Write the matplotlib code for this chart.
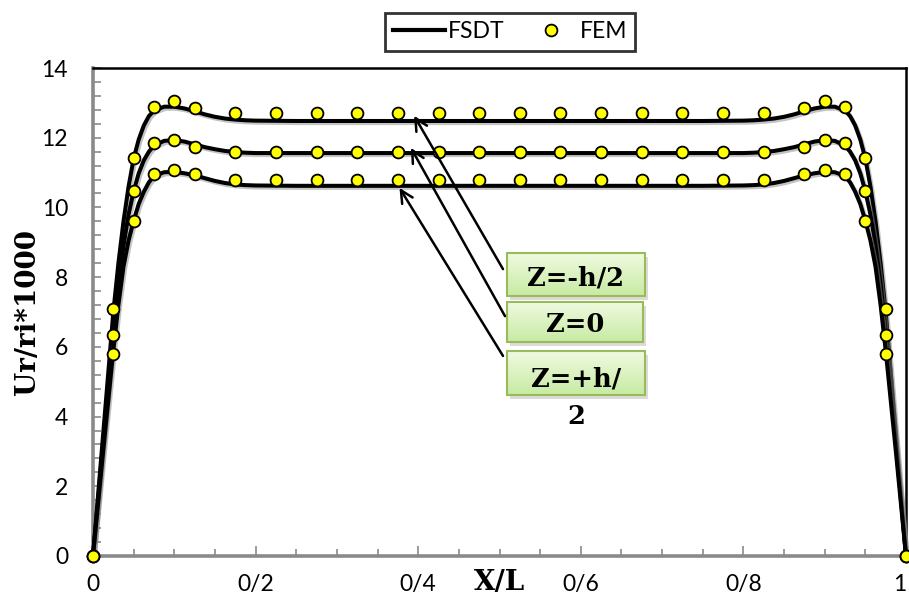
import matplotlib
matplotlib.use("Agg")
import matplotlib.pyplot as plt
import matplotlib.patheffects as pe
from matplotlib.ticker import MultipleLocator, FixedLocator, FixedFormatter
from matplotlib.lines import Line2D
import numpy as np

# ---- FSDT curves (radial displacement along the shell) ----
x_fsdt = [0, 0.0125, 0.025, 0.03125, 0.0375, 0.04375, 0.05, 0.05625, 0.0625, 0.06875,
          0.075, 0.0875, 0.1, 0.1125, 0.125, 0.1375, 0.15, 0.1625, 0.175, 0.1875, 0.2,
          0.25, 0.5, 0.75,
          0.8, 0.8125, 0.825, 0.8375, 0.85, 0.8625, 0.875, 0.8875, 0.9, 0.9125, 0.925,
          0.93125, 0.9375, 0.94375, 0.95, 0.95625, 0.9625, 0.96875, 0.975, 0.9875, 1.0]

fsdt_top = [0, 3.5, 7.0, 8.4, 9.6, 10.6, 11.4, 11.95, 12.35, 12.62,
            12.78, 12.89, 12.89, 12.84, 12.76, 12.67, 12.6, 12.55, 12.52, 12.5, 12.49,
            12.48, 12.48, 12.48,
            12.49, 12.5, 12.52, 12.55, 12.6, 12.67, 12.76, 12.84, 12.89, 12.89, 12.78,
            12.62, 12.35, 11.95, 11.4, 10.6, 9.6, 8.4, 7.0, 3.5, 0]

fsdt_mid = [0, 3.25, 6.4, 7.8, 8.9, 9.8, 10.47, 10.98, 11.35, 11.6,
            11.77, 11.91, 11.93, 11.89, 11.81, 11.73, 11.67, 11.62, 11.59, 11.57, 11.56,
            11.56, 11.56, 11.56,
            11.56, 11.57, 11.59, 11.62, 11.67, 11.73, 11.81, 11.89, 11.93, 11.91, 11.77,
            11.6, 11.35, 10.98, 10.47, 9.8, 8.9, 7.8, 6.4, 3.25, 0]

fsdt_bot = [0, 3.0, 5.9, 7.2, 8.3, 9.05, 9.62, 10.1, 10.45, 10.72,
            10.9, 11.01, 11.02, 10.98, 10.92, 10.84, 10.76, 10.7, 10.66, 10.64, 10.63,
            10.62, 10.62, 10.62,
            10.63, 10.64, 10.66, 10.7, 10.76, 10.84, 10.92, 10.98, 11.02, 11.01, 10.9,
            10.72, 10.45, 10.1, 9.62, 9.05, 8.3, 7.2, 5.9, 3.0, 0]

# ---- FEM results ----
x_fem = [0, 0.025, 0.05, 0.075, 0.1, 0.125, 0.175, 0.225, 0.275, 0.325, 0.375,
         0.425, 0.475, 0.525, 0.575, 0.625, 0.675, 0.725, 0.775, 0.825,
         0.875, 0.9, 0.925, 0.95, 0.975, 1.0]
fem_top = [0, 7.1, 11.43, 12.88, 13.05, 12.86, 12.7, 12.7, 12.7, 12.7, 12.7,
           12.7, 12.7, 12.7, 12.7, 12.7, 12.7, 12.7, 12.7, 12.7,
           12.86, 13.05, 12.88, 11.43, 7.1, 0]
fem_mid = [0, 6.33, 10.47, 11.84, 11.93, 11.74, 11.6, 11.6, 11.6, 11.6, 11.6,
           11.6, 11.6, 11.6, 11.6, 11.6, 11.6, 11.6, 11.6, 11.6,
           11.74, 11.93, 11.84, 10.47, 6.33, 0]
fem_bot = [0, 5.79, 9.62, 10.95, 11.08, 10.95, 10.8, 10.8, 10.8, 10.8, 10.8,
           10.8, 10.8, 10.8, 10.8, 10.8, 10.8, 10.8, 10.8, 10.8,
           10.95, 11.08, 10.95, 9.62, 5.79, 0]

x_ticks = [0, 0.2, 0.4, 0.6, 0.8, 1.0]
x_ticklabels = ["0", "0/2", "0/4", "0/6", "0/8", "1"]
y_ticks = [0, 2, 4, 6, 8, 10, 12, 14]

labels = ["Z=-h/2", "Z=0", "Z=+h/"]
arrow_tips = [(0.395, 12.63), (0.391, 11.71), (0.377, 10.56)]

TICK_FONT = ["Lato", "DejaVu Sans"]
SERIF_BOLD = dict(family="DejaVu Serif", weight="bold")

fig = plt.figure(figsize=(9.09, 6.03), dpi=100)
ax = fig.add_axes([93 / 909, 1 - 556 / 603, 813 / 909, 488 / 603])

shadow = [pe.SimpleLineShadow(offset=(1.2, -1.5), shadow_color="#888888", alpha=0.5),
          pe.Normal()]
for ys in (fsdt_top, fsdt_mid, fsdt_bot):
    ax.plot(x_fsdt, ys, color="black", lw=2.9, solid_joinstyle="round",
            path_effects=shadow, zorder=3, clip_on=False)

for ys in (fem_top, fem_mid, fem_bot):
    ax.plot(x_fem, ys, ls="none", marker="o", ms=8.5, mfc="#ffff00", mec="black",
            mew=1.3, zorder=4, clip_on=False)

ax.set_xlim(0, 1)
ax.set_ylim(0, 14)

ax.xaxis.set_major_locator(FixedLocator(x_ticks))
ax.xaxis.set_major_formatter(FixedFormatter(x_ticklabels))
ax.xaxis.set_minor_locator(MultipleLocator(0.05))
ax.yaxis.set_major_locator(FixedLocator(y_ticks))
ax.yaxis.set_minor_locator(MultipleLocator(0.4))

ax.tick_params(axis="both", which="both", direction="in", color="#8a8a8a", width=1.2)
ax.tick_params(axis="x", which="major", length=7, pad=13)
ax.tick_params(axis="x", which="minor", length=5)
ax.tick_params(axis="y", which="both", length=6, pad=18)
for lab in ax.get_xticklabels() + ax.get_yticklabels():
    lab.set_family(TICK_FONT)
    lab.set_fontsize(16.5)
ax.get_xticklabels()[-1].set_ha("right")
ax.get_xticklabels()[-1].set_x(1.0)

for side in ("top", "right"):
    ax.spines[side].set_color("black")
    ax.spines[side].set_linewidth(1.8)
for side in ("left", "bottom"):
    ax.spines[side].set_color("#8a8a8a")
    ax.spines[side].set_linewidth(2.6)
    ax.spines[side].set_zorder(2.5)

ax.set_xlabel("X/L", fontsize=20, **SERIF_BOLD)
ax.xaxis.set_label_coords(0.5, -0.055)
ax.xaxis.label.set_va("center")
ax.set_ylabel("Ur/ri*1000", fontsize=20, **SERIF_BOLD)
ax.yaxis.set_label_coords(-0.081, 0.5)
ax.yaxis.label.set_va("center")

# ---- label boxes with arrows ----
boxes = [(0.509, 0.679, 7.46, 8.69), (0.509, 0.6765, 6.14, 7.29), (0.509, 0.679, 4.62, 5.88)]
tails = [(0.5043, 8.23), (0.5068, 6.88), (0.5043, 5.74)]
text_y = [7.98, 6.64, 5.09]
grad = np.linspace(0, 1, 64).reshape(-1, 1)
top_c = np.array([0.94, 0.98, 0.88])
bot_c = np.array([0.78, 0.92, 0.64])
grad_img = top_c[None, None, :] * (1 - grad[:, :, None]) + bot_c[None, None, :] * grad[:, :, None]

for (x0, x1, y0, y1), lab, ty in zip(boxes, labels, text_y):
    ax.add_patch(plt.Rectangle((x0 + 0.004, y0 - 0.12), x1 - x0, y1 - y0,
                               facecolor="#999999", alpha=0.35, edgecolor="none",
                               zorder=5, clip_on=False))
    ax.imshow(grad_img, extent=[x0, x1, y0, y1], aspect="auto", origin="upper",
              zorder=5.5, clip_on=False, interpolation="bilinear")
    ax.add_patch(plt.Rectangle((x0, y0), x1 - x0, y1 - y0, facecolor="none",
                               edgecolor="#9bbb59", lw=1.5, zorder=6, clip_on=False))
    ax.text((x0 + x1) / 2, ty, lab, ha="center", va="center", fontsize=18.5,
            zorder=7, **SERIF_BOLD)
ax.text(0.594, 4.0, "2", ha="center", va="center", fontsize=18.5, zorder=7, **SERIF_BOLD)

for tip, tail in zip(arrow_tips, tails):
    ax.annotate("", xy=tip, xytext=tail,
                arrowprops=dict(arrowstyle="->", color="black", lw=1.8,
                                mutation_scale=22, shrinkA=0, shrinkB=0),
                zorder=8)

ax.set_xlim(0, 1)
ax.set_ylim(0, 14)

# ---- legend above the plot ----
handles = [Line2D([], [], color="black", lw=3),
           Line2D([], [], ls="none", marker="o", ms=8.5, mfc="#ffff00", mec="black", mew=1.3)]
leg = fig.legend(handles, ["FSDT", "FEM"], loc="center", bbox_to_anchor=(510 / 909, 1 - 32 / 603),
                 ncol=2, frameon=True, fancybox=False, handlelength=2.3, handletextpad=0.12,
                 columnspacing=0.85, borderpad=0.35, borderaxespad=0,
                 prop=dict(family=TICK_FONT, size=16.5))
leg.get_frame().set_edgecolor("black")
leg.get_frame().set_linewidth(2)

fig.savefig("out.png", dpi=100)
